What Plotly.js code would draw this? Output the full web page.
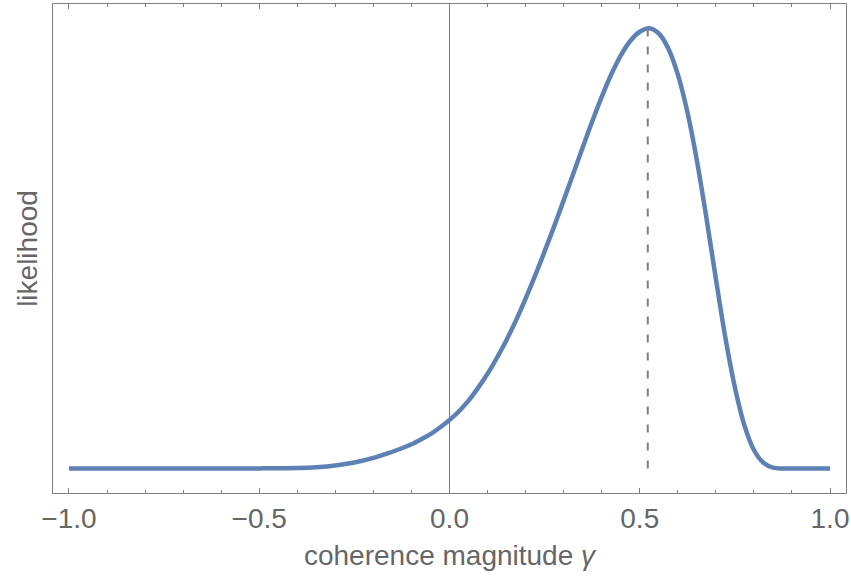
<!DOCTYPE html>
<html>
<head>
<meta charset="utf-8">
<script src="https://cdn.plot.ly/plotly-3.0.1.min.js"></script>
<style>html,body{margin:0;padding:0;background:#fff;}#chart{width:851px;height:578px;}</style>
</head>
<body>
<div id="chart"></div>
<script>
const gammaValues = [-1.0, -0.8, -0.6, -0.5, -0.4, -0.35, -0.3, -0.25, -0.2, -0.175, -0.15, -0.125, -0.1, -0.075, -0.05, -0.025,
  0.0, 0.025, 0.05, 0.075, 0.1, 0.125, 0.15, 0.175, 0.2, 0.225, 0.25, 0.275, 0.3, 0.325, 0.35, 0.375, 0.4, 0.425, 0.45, 0.475, 0.5, 0.525,
  0.55, 0.575, 0.6, 0.625, 0.65, 0.675, 0.7, 0.725, 0.75, 0.775, 0.8, 0.825, 0.85, 0.875, 0.9, 1.0];
const likelihood  = [0, 0, 0, 0.0002, 0.0012, 0.003, 0.0068, 0.0135, 0.024, 0.031, 0.038, 0.046, 0.055, 0.066, 0.078, 0.093,
  0.110, 0.130, 0.154, 0.183, 0.215, 0.252, 0.292, 0.337, 0.386, 0.438, 0.493, 0.550, 0.609, 0.669, 0.729, 0.788, 0.844, 0.895, 0.938, 0.971, 0.992, 1.0,
  0.988, 0.954, 0.895, 0.810, 0.700, 0.570, 0.431, 0.297, 0.184, 0.098, 0.042, 0.013, 0.002, 0, 0, 0];
const peakGamma = [0.521];
const peakValue = [1.0];
const tickVals = [-1.0, -0.5, 0.0, 0.5, 1.0];
const tickText = ["\u22121.0", "\u22120.5", "0.0", "0.5", "1.0"];

const gray = "#7f7f7f";
const textGray = "#666666";

const traces = [
  {
    x: gammaValues, y: likelihood, type: "scatter", mode: "lines",
    line: {color: "#5e81b5", width: 4.5, shape: "spline", smoothing: 1, simplify: false},
    hoverinfo: "skip"
  },
  {
    x: [peakGamma[0], peakGamma[0]], y: [0, peakValue[0]], type: "scatter", mode: "lines",
    line: {color: gray, width: 2, dash: "8px,10px"},
    hoverinfo: "skip"
  }
];

const layout = {
  width: 851, height: 578,
  margin: {l: 53, r: 5, t: 4, b: 85},
  paper_bgcolor: "#fff", plot_bgcolor: "#fff",
  showlegend: false,
  font: {family: "Liberation Sans, Arial, sans-serif", color: textGray},
  xaxis: {
    range: [-1.042, 1.042],
    tickvals: tickVals, ticktext: tickText,
    ticks: "inside", ticklen: 5, tickwidth: 1, tickcolor: gray,
    minor: {dtick: 0.1, tick0: 0, ticks: "inside", ticklen: 3, tickwidth: 1, tickcolor: gray, showgrid: false},
    showline: true, linecolor: gray, linewidth: 1, mirror: "allticks",
    showgrid: false, zeroline: true, zerolinecolor: gray, zerolinewidth: 1,
    tickfont: {size: 28, color: textGray},
    ticklabelstandoff: 0,
    title: {text: "coherence magnitude <i>\u03b3</i>", font: {size: 28, color: textGray}, standoff: 12}
  },
  yaxis: {
    range: [-0.0557, 1.055],
    showticklabels: false, ticks: "",
    showline: true, linecolor: gray, linewidth: 1, mirror: true,
    showgrid: false, zeroline: false,
    title: {text: "likelihood", font: {size: 28, color: textGray}, standoff: 6}
  }
};

Plotly.newPlot("chart", traces, layout, {staticPlot: true, displayModeBar: false});
</script>
</body>
</html>
